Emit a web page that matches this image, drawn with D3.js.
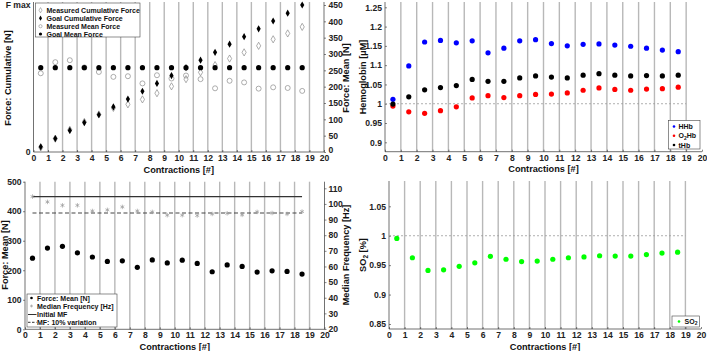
<!DOCTYPE html>
<html><head><meta charset="utf-8">
<script src="https://cdn.jsdelivr.net/npm/d3@7"></script>
<style>
body{margin:0;background:#fff;}
svg{display:block;font-family:"Liberation Sans",Arial,Helvetica,sans-serif;font-weight:bold;}
</style></head><body>
<svg id="c" width="707" height="351"></svg>
<script>
// ---------- data ----------
const contractions = [0.5,1.5,2.5,3.5,4.5,5.5,6.5,7.5,8.5,9.5,10.5,11.5,12.5,13.5,14.5,15.5,16.5,17.5,18.5];
const xTicks = [0,1,2,3,4,5,6,7,8,9,10,11,12,13,14,15,16,17,18,19,20];
const gridX = [1,2,3,4,5,6,7,8,9,10,11,12,13,14,15,16,17,18,19];

const measuredCumulative = [14,41,68,92,115,135,146,161,180,201,223,244,266,286,305,325,345,363,383];
const goalCumulative = [16,41,66,90,114,138,162,186,210,234,258,281,305,330,353,377,401,425,450];
const measuredMean = [241,275,281,259,245,230,232,210,235,225,234,223,195,218,213,194,198,196,187];
const goalMean = [258,258,258,258,258,258,258,258,258,258,258,258,258,258,258,258,258,258,258];
const meanForceTicks = [0,50,100,150,200,250,300,350,400,450];

const HHb = [1.0115,1.098,1.160,1.164,1.158,1.163,1.132,1.144,1.163,1.166,1.156,1.150,1.154,1.155,1.152,1.149,1.144,1.139,1.135];
const O2Hb = [0.994,0.979,0.975,0.982,0.992,1.015,1.021,1.016,1.021,1.024,1.025,1.028,1.035,1.041,1.037,1.035,1.038,1.039,1.043];
const tHb = [0.999,1.018,1.036,1.042,1.047,1.063,1.058,1.058,1.067,1.072,1.069,1.067,1.074,1.078,1.074,1.072,1.073,1.072,1.074];
const hbTicks = [0.9,0.95,1,1.05,1.1,1.15,1.2,1.25];

const forceMean = [241,275,281,259,245,230,232,210,235,225,234,223,195,218,213,194,198,196,187];
const medianFreq = [104.7,101.3,99.1,99.1,95.5,96.2,98.1,95.5,94.9,92.8,92.8,92.6,93.6,94.0,93.0,94.9,94.2,93.6,95.1];
const initialMF = 104.7;
const mfVariation = 94.2;
const forceTicks = [0,100,200,300,400,500];
const freqTicks = [20,30,40,50,60,70,80,90,100,110];

const SO2 = [0.9954,0.9626,0.941,0.942,0.948,0.954,0.965,0.960,0.956,0.957,0.960,0.9626,0.964,0.966,0.9655,0.9655,0.968,0.9705,0.972];
const so2Ticks = [0.85,0.9,0.95,1,1.05];

// ---------- helpers ----------
const svg = d3.select("#c");
const TICK_FS = 8.6, LAB_FS = 9.2, LEG_FS = 7;

function styleAxis(g){
  g.selectAll("text").attr("font-size",TICK_FS).attr("fill","#222").attr("font-weight","bold")
   .attr("font-family",'"Liberation Sans",Arial,sans-serif');
  g.selectAll("line").attr("stroke","#333").attr("stroke-width",0.6);
  g.select(".domain").remove();
}
function vline(x,y0,y1,stroke,w){
  svg.append("line").attr("x1",x).attr("x2",x).attr("y1",y0).attr("y2",y1).attr("stroke",stroke).attr("stroke-width",w);
}
function grid(x,bottom,top){
  svg.append("g").selectAll("line").data(gridX).join("line")
    .attr("x1",d=>x(d)).attr("x2",d=>x(d)).attr("y1",bottom).attr("y2",top)
    .attr("stroke","#b8b8b8").attr("stroke-width",1.4);
}
function xAxis(x,bottom){
  const g = svg.append("g").attr("transform",`translate(0,${bottom})`)
    .call(d3.axisBottom(x).tickValues(xTicks).tickFormat(d3.format("d")).tickSizeInner(-2).tickSizeOuter(0).tickPadding(3));
  styleAxis(g);
  svg.append("line").attr("x1",x.range()[0]).attr("x2",x.range()[1]).attr("y1",bottom).attr("y2",bottom)
    .attr("stroke","#333").attr("stroke-width",0.7);
  const cx = (x.range()[0]+x.range()[1])/2;
  svg.append("text").attr("x",cx).attr("y",bottom+20.5).attr("text-anchor","middle")
    .attr("font-size",LAB_FS).attr("fill","#111").text("Contractions [#]");
}
function yLabel(x,y,txt,sub){
  const t = svg.append("text").attr("transform",`translate(${x},${y}) rotate(-90)`)
    .attr("text-anchor","middle").attr("font-size",LAB_FS).attr("fill","#111");
  if(sub){
    t.append("tspan").text(txt[0]);
    t.append("tspan").attr("font-size",6.5).attr("dy",2).text(txt[1]);
    t.append("tspan").attr("dy",-2).text(txt[2]);
  } else t.text(txt);
}
function legendBox(x0,y0,x1,y1){
  svg.append("rect").attr("x",x0).attr("y",y0).attr("width",x1-x0).attr("height",y1-y0)
    .attr("fill","#fff").attr("stroke","#444").attr("stroke-width",0.6);
}
function legText(x,y,txt){
  return svg.append("text").attr("x",x).attr("y",y+2.5).attr("font-size",LEG_FS).attr("fill","#111").text(txt);
}
const diamond = d3.symbol().type(d3.symbolDiamond).size(15);
const diamondSmall = d3.symbol().type(d3.symbolDiamond).size(8);
const asterisk = d3.symbol().type(d3.symbolAsterisk).size(14);

// ======== Panel 1: top-left (forces) ========
{
  const x = d3.scaleLinear().domain([0,20]).range([33.5,324]);
  const y = d3.scaleLinear().domain([0,450]).range([152,5]);
  const bottom = 152, top = 2;
  grid(x,bottom,top);
  xAxis(x,bottom);
  vline(x(0),bottom,top,"#333",0.7);
  vline(x(20),bottom,top,"#333",0.7);
  svg.append("text").attr("x",x(0)-3).attr("y",bottom+3).attr("text-anchor","end").attr("font-size",TICK_FS).attr("fill","#222").text("0");
  svg.append("text").attr("x",x(0)-3).attr("y",8).attr("text-anchor","end").attr("font-size",TICK_FS).attr("fill","#222").text("F max");
  const gr = svg.append("g").attr("transform",`translate(${x(20)},0)`)
    .call(d3.axisRight(y).tickValues(meanForceTicks).tickSizeInner(2).tickSizeOuter(0).tickPadding(2.5));
  styleAxis(gr);
  gr.selectAll(".tick").filter(d=>d===0).select("text").attr("dy","0.05em");
  yLabel(11,78,"Force: Cumulative [N]");
  yLabel(348.5,78,"Force: Mean [N]");

  const pts = svg.append("g");
  pts.selectAll(".mc").data(contractions).join("path").attr("d",diamond)
    .attr("transform",(d,i)=>`translate(${x(d)},${y(measuredCumulative[i])})`)
    .attr("fill","none").attr("stroke","#8a8a8a").attr("stroke-width",0.7);
  pts.selectAll(".mm").data(contractions).join("circle")
    .attr("cx",d=>x(d)).attr("cy",(d,i)=>y(measuredMean[i])).attr("r",2.5)
    .attr("fill","none").attr("stroke","#8a8a8a").attr("stroke-width",0.7);
  pts.selectAll(".gm").data(contractions).join("circle")
    .attr("cx",d=>x(d)).attr("cy",(d,i)=>y(goalMean[i])).attr("r",2.6).attr("fill","#000");
  pts.selectAll(".gc").data(contractions).join("path").attr("d",diamond)
    .attr("transform",(d,i)=>`translate(${x(d)},${y(goalCumulative[i])})`).attr("fill","#000");

  legendBox(35.5,3,140,37);
  const lx = 40.5;
  const rows = [10.2,18.2,26.2,34];
  svg.append("path").attr("d",diamondSmall).attr("transform",`translate(${lx},${rows[0]})`).attr("fill","none").attr("stroke","#8a8a8a").attr("stroke-width",0.6);
  svg.append("path").attr("d",diamondSmall).attr("transform",`translate(${lx},${rows[1]})`).attr("fill","#000");
  svg.append("circle").attr("cx",lx).attr("cy",rows[2]).attr("r",1.6).attr("fill","none").attr("stroke","#8a8a8a").attr("stroke-width",0.6);
  svg.append("circle").attr("cx",lx).attr("cy",rows[3]).attr("r",1.6).attr("fill","#000");
  legText(46.5,rows[0],"Measured Cumulative Force");
  legText(46.5,rows[1],"Goal Cumulative Force");
  legText(46.5,rows[2],"Measured Mean Force");
  legText(46.5,rows[3],"Goal Mean Force");
}

// ======== Panel 2: top-right (hemoglobin) ========
{
  const x = d3.scaleLinear().domain([0,20]).range([385,702]);
  const y = d3.scaleLinear().domain([0.9,1.25]).range([142.3,7.3]);
  const bottom = 151.7, top = 2;
  grid(x,bottom,top);
  xAxis(x,bottom);
  vline(x(0),bottom,top,"#333",0.7);
  const gl = svg.append("g").attr("transform",`translate(${x(0)},0)`)
    .call(d3.axisLeft(y).tickValues(hbTicks).tickFormat(d=>String(+d.toFixed(2))).tickSizeInner(-2).tickSizeOuter(0).tickPadding(3));
  styleAxis(gl);
  svg.append("line").attr("x1",x(0)).attr("x2",x(19)).attr("y1",y(1)).attr("y2",y(1))
    .attr("stroke","#9a9a9a").attr("stroke-width",0.8).attr("stroke-dasharray","2,2");
  yLabel(366,77,"Hemoglobin [µM]");
  const series = [[HHb,"#0000ff"],[O2Hb,"#ff0000"],[tHb,"#000000"]];
  series.forEach(([vals,col])=>{
    svg.append("g").selectAll("circle").data(contractions).join("circle")
      .attr("cx",d=>x(d)).attr("cy",(d,i)=>y(vals[i])).attr("r",2.6).attr("fill",col);
  });
  legendBox(668.5,120.5,700,149);
  const rows = [126.5,135.8,145];
  svg.append("circle").attr("cx",674).attr("cy",rows[0]).attr("r",1.3).attr("fill","#0000ff");
  svg.append("circle").attr("cx",674).attr("cy",rows[1]).attr("r",1.3).attr("fill","#ff0000");
  svg.append("circle").attr("cx",674).attr("cy",rows[2]).attr("r",1.3).attr("fill","#000");
  legText(678.5,rows[0],"HHb");
  const t = legText(678.5,rows[1],"O");
  t.append("tspan").attr("font-size",5).attr("dy",1.5).text("2");
  t.append("tspan").attr("dy",-1.5).text("Hb");
  legText(678.5,rows[2],"tHb");
}

// ======== Panel 3: bottom-left (force mean & median frequency) ========
{
  const x = d3.scaleLinear().domain([0,20]).range([25,324.5]);
  const yL = d3.scaleLinear().domain([0,500]).range([329.3,181.7]);
  const yR = d3.scaleLinear().domain([20,110]).range([329,188.3]);
  const bottom = 329.3, top = 181.7;
  grid(x,bottom,top);
  xAxis(x,bottom);
  vline(x(0),bottom,top,"#333",0.7);
  vline(x(20),bottom,top,"#333",0.7);
  const gl = svg.append("g").attr("transform",`translate(${x(0)},0)`)
    .call(d3.axisLeft(yL).tickValues(forceTicks).tickSizeInner(2).tickSizeOuter(0).tickPadding(1.5));
  styleAxis(gl);
  const gr = svg.append("g").attr("transform",`translate(${x(20)},0)`)
    .call(d3.axisRight(yR).tickValues(freqTicks).tickSizeInner(2).tickSizeOuter(0).tickPadding(2));
  styleAxis(gr);
  yLabel(8,255,"Force: Mean [N]");
  yLabel(348.5,255,"Median Frequency [Hz]");

  svg.append("line").attr("x1",x(contractions[0])).attr("x2",x(contractions[18]))
    .attr("y1",yR(initialMF)).attr("y2",yR(initialMF)).attr("stroke","#333").attr("stroke-width",1.2);
  svg.append("line").attr("x1",x(contractions[0])).attr("x2",x(contractions[18]))
    .attr("y1",yR(mfVariation)).attr("y2",yR(mfVariation)).attr("stroke","#444").attr("stroke-width",1.2)
    .attr("stroke-dasharray","4,2.5");
  svg.append("g").selectAll("path").data(contractions).join("path").attr("d",asterisk)
    .attr("transform",(d,i)=>`translate(${x(d)},${yR(medianFreq[i])})`)
    .attr("fill","none").attr("stroke","#9a9a9a").attr("stroke-width",0.7);
  svg.append("g").selectAll("circle").data(contractions).join("circle")
    .attr("cx",d=>x(d)).attr("cy",(d,i)=>yL(forceMean[i])).attr("r",2.6).attr("fill","#000");

  legendBox(27,294,117,327);
  const rows = [298,306,314.5,322.3];
  svg.append("circle").attr("cx",31.5).attr("cy",rows[0]).attr("r",1.3).attr("fill","#000");
  svg.append("path").attr("d",d3.symbol().type(d3.symbolAsterisk).size(6)).attr("transform",`translate(31.5,${rows[1]})`)
    .attr("fill","none").attr("stroke","#9a9a9a").attr("stroke-width",0.6);
  svg.append("line").attr("x1",28).attr("x2",36.5).attr("y1",rows[2]).attr("y2",rows[2]).attr("stroke","#333").attr("stroke-width",1);
  svg.append("line").attr("x1",28).attr("x2",36.5).attr("y1",rows[3]).attr("y2",rows[3]).attr("stroke","#333").attr("stroke-width",1).attr("stroke-dasharray","2.5,1.5");
  legText(37,rows[0],"Force: Mean [N]");
  legText(37,rows[1],"Median Frequency [Hz]");
  legText(37,rows[2],"Initial MF");
  legText(37,rows[3],"MF: 10% variation");
}

// ======== Panel 4: bottom-right (SO2) ========
{
  const x = d3.scaleLinear().domain([0,20]).range([389,701]);
  const y = d3.scaleLinear().domain([0.85,1.05]).range([324,206.3]);
  const bottom = 329, top = 181;
  grid(x,bottom,top);
  xAxis(x,bottom);
  vline(x(0),bottom,top,"#333",0.7);
  const gl = svg.append("g").attr("transform",`translate(${x(0)},0)`)
    .call(d3.axisLeft(y).tickValues(so2Ticks).tickFormat(d=>String(+d.toFixed(2))).tickSizeInner(-2).tickSizeOuter(0).tickPadding(3));
  styleAxis(gl);
  svg.append("line").attr("x1",x(0)).attr("x2",x(19)).attr("y1",y(1)).attr("y2",y(1))
    .attr("stroke","#9a9a9a").attr("stroke-width",0.8).attr("stroke-dasharray","2,2");
  yLabel(366,255,["SO","2"," [%]"],true);
  svg.append("g").selectAll("circle").data(contractions).join("circle")
    .attr("cx",d=>x(d)).attr("cy",(d,i)=>y(SO2[i])).attr("r",2.6).attr("fill","#00ff00");
  legendBox(672,316,699.5,327);
  svg.append("circle").attr("cx",679).attr("cy",321.5).attr("r",1.3).attr("fill","#00ff00");
  const t = legText(684.5,321.3,"SO");
  t.append("tspan").attr("font-size",5).attr("dy",1.5).text("2");
}
</script>
</body></html>
